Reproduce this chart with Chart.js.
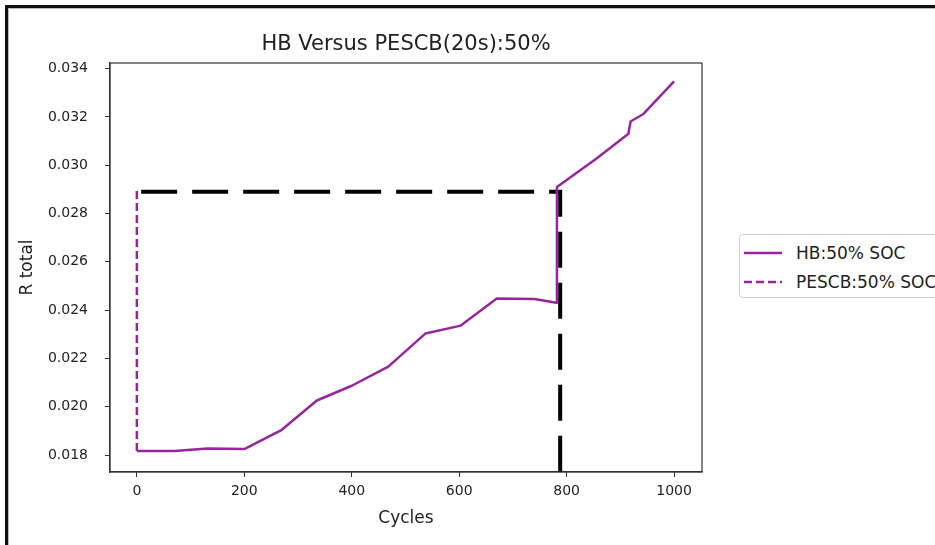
<!DOCTYPE html>
<html lang="en">
<head>
<meta charset="UTF-8">
<title>HB Versus PESCB</title>
<script src="https://cdn.jsdelivr.net/npm/chart.js"></script>
<style>
    body { margin: 0; background: #fff; overflow: hidden; font-family: "DejaVu Sans", sans-serif; }
    #wrap { position: relative; width: 935px; height: 545px; overflow: hidden; }
    #frame {
        position: absolute; left: 5px; top: 5px; width: 960px; height: 560px;
        border-left: 3px solid #111; border-top: 3px solid #111;
        box-shadow: inset 1px 1px 0 #bbb; pointer-events: none;
    }
    #legenda {
        position: absolute; left: 739px; top: 234px; width: 215px; height: 62px;
        border: 1px solid #d0d0d0; border-radius: 4px; background: #fff;
        color: #222; font-size: 17px;
    }
    .item { position: absolute; left: 0; height: 20px; width: 215px; }
    .item svg { position: absolute; left: 4px; top: 5px; }
    .item span { position: absolute; left: 56px; top: 0; line-height: 20px; white-space: nowrap; }
</style>
</head>
<body>
<div id="wrap">
    <canvas id="grafico" width="935" height="545"></canvas>
    <div id="legenda">
        <div class="item" style="top: 8px;">
            <svg width="40" height="10"><line x1="0" y1="5" x2="38" y2="5" stroke="#96259e" stroke-width="2.5"/></svg>
            <span>HB:50% SOC</span>
        </div>
        <div class="item" style="top: 37px;">
            <svg width="40" height="10"><line x1="0" y1="5" x2="38" y2="5" stroke="#96259e" stroke-width="2.5" stroke-dasharray="8 4"/></svg>
            <span>PESCB:50% SOC</span>
        </div>
    </div>
    <div id="frame"></div>
</div>

<script>
    // dados
    const hbCycles = [0, 70, 132, 200, 268, 335, 400, 468, 537, 603, 670, 740, 781, 782, 857, 915, 919, 943, 1000];
    const hbR = [0.01817, 0.01817, 0.01827, 0.01825, 0.01902, 0.02026, 0.02087, 0.02166, 0.02303, 0.02336,
                 0.02448, 0.02446, 0.02431, 0.02910, 0.03030, 0.03130, 0.03181, 0.03212, 0.03347];

    const pescbCycles = [0, 0];
    const pescbR = [0.01817, 0.02900];

    // linha preta tracejada (limite)
    const limiteCycles = [8, 788, 788];
    const limiteR = [0.0289, 0.0289, 0.0170];

    const xTicks = [0, 200, 400, 600, 800, 1000];
    const yTicks = [0.018, 0.020, 0.022, 0.024, 0.026, 0.028, 0.030, 0.032, 0.034];

    const roxo = '#96259e';
    const corTexto = '#222';

    function pontos(xs, ys) {
        return xs.map((x, i) => ({ x: x, y: ys[i] }));
    }

    // moldura dos eixos (os 4 lados)
    const moldura = {
        id: 'moldura',
        afterDraw(chart) {
            const a = chart.chartArea;
            const ctx = chart.ctx;
            ctx.save();
            ctx.strokeStyle = '#333';
            ctx.lineWidth = 1.2;
            ctx.strokeRect(a.left, a.top, a.right - a.left, a.bottom - a.top);
            ctx.restore();
        }
    };

    Chart.defaults.font.family = '"DejaVu Sans", sans-serif';
    Chart.defaults.color = corTexto;

    new Chart(document.getElementById('grafico'), {
        type: 'line',
        data: {
            datasets: [
                {
                    label: 'HB:50% SOC',
                    data: pontos(hbCycles, hbR),
                    borderColor: roxo,
                    borderWidth: 2.5,
                    pointRadius: 0,
                    borderJoinStyle: 'round',
                    fill: false
                },
                {
                    label: 'PESCB:50% SOC',
                    data: pontos(pescbCycles, pescbR),
                    borderColor: roxo,
                    borderWidth: 2.5,
                    borderDash: [8, 4],
                    pointRadius: 0,
                    fill: false
                },
                {
                    label: 'limite',
                    data: pontos(limiteCycles, limiteR),
                    borderColor: '#000',
                    borderWidth: 4,
                    borderDash: [36, 15],
                    pointRadius: 0,
                    fill: false
                }
            ]
        },
        options: {
            responsive: false,
            animation: false,
            layout: { padding: { left: 0, right: 233, top: 0, bottom: 0 } },
            plugins: {
                legend: { display: false },
                tooltip: { enabled: false },
                title: {
                    display: true,
                    text: 'HB Versus PESCB(20s):50%',
                    fullSize: false,
                    color: corTexto,
                    font: { size: 21, weight: 'normal' },
                    padding: { top: 32, bottom: 5.8 }
                }
            },
            scales: {
                x: {
                    type: 'linear',
                    min: -50,
                    max: 1052,
                    afterFit: (s) => { s.height = 73; },
                    afterBuildTicks: (s) => { s.ticks = xTicks.map(v => ({ value: v })); },
                    ticks: {
                        font: { size: 14 },
                        padding: 6,
                        maxRotation: 0,
                        color: corTexto,
                        callback: (v) => String(v)
                    },
                    grid: { display: true, drawOnChartArea: false, drawTicks: true, tickLength: 5, color: '#333' },
                    border: { display: true, color: '#333', width: 1.2 },
                    title: { display: true, text: 'Cycles', font: { size: 17 }, padding: { top: 0, bottom: 16 }, color: corTexto }
                },
                y: {
                    type: 'linear',
                    min: 0.0173,
                    max: 0.03423,
                    afterFit: (s) => { s.width = 110; },
                    afterBuildTicks: (s) => { s.ticks = yTicks.map(v => ({ value: v })); },
                    ticks: {
                        font: { size: 14 },
                        padding: 17,
                        color: corTexto,
                        callback: (v) => Number(v).toFixed(3)
                    },
                    grid: { display: true, drawOnChartArea: false, drawTicks: true, tickLength: 5, color: '#333' },
                    border: { display: true, color: '#333', width: 1.2 },
                    title: { display: true, text: 'R total', font: { size: 17 }, padding: { top: 17, bottom: 0 }, color: corTexto }
                }
            }
        },
        plugins: [moldura]
    });
</script>
</body>
</html>
